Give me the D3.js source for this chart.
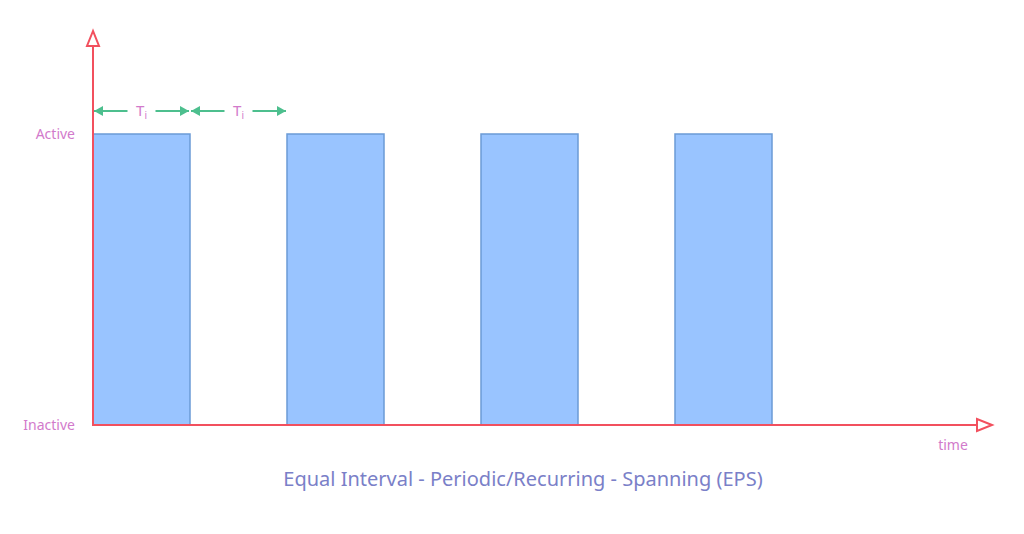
<!DOCTYPE html>
<html><head><meta charset="utf-8">
<script src="https://cdn.jsdelivr.net/npm/d3@7.9.0/dist/d3.min.js"></script>
<style>body{margin:0;background:#fff}svg{display:block;font-family:"Noto Sans",sans-serif}</style>
</head><body><svg id="chart" width="1024" height="534"></svg>
<script>
// bars: start time and duration in interval units
const barStarts = [0, 2, 4, 6];
const barWidth = 1;
const states = ['Inactive', 'Active'];
const intervals = [[0, 1], [1, 2]];
const intervalLabel = 'T';
const title = 'Equal Interval - Periodic/Recurring - Spanning (EPS)';

const svg = d3.select('#chart');
const x = d3.scaleLinear().domain([0, 1]).range([93, 190]);
const y = d3.scalePoint().domain(states).range([425, 134]);

const red = '#f2505e', pink = '#d27acb', green = '#4dbf8e';

svg.selectAll('rect.bar').data(barStarts).enter().append('rect')
  .attr('x', d => x(d)).attr('y', y('Active'))
  .attr('width', x(barWidth) - x(0)).attr('height', y('Inactive') - y('Active'))
  .attr('fill', '#99c4ff').attr('stroke', '#6b9bd6').attr('stroke-width', 1.5);

// axes
svg.append('line').attr('x1', 93).attr('x2', 93).attr('y1', 426).attr('y2', 46)
  .attr('stroke', red).attr('stroke-width', 2);
svg.append('path').attr('d', 'M93,31 L87,46 L99,46 Z').attr('fill', '#fff').attr('stroke', red).attr('stroke-width', 2);
svg.append('line').attr('x1', 92).attr('x2', 977).attr('y1', 425).attr('y2', 425)
  .attr('stroke', red).attr('stroke-width', 2);
svg.append('path').attr('d', 'M992,425 L977,419 L977,431 Z').attr('fill', '#fff').attr('stroke', red).attr('stroke-width', 2);

svg.selectAll('text.state').data(states).enter().append('text')
  .attr('x', 75).attr('y', d => y(d)).attr('dy', '0.35em').attr('text-anchor', 'end')
  .attr('fill', pink).attr('font-size', 14).text(d => d);
svg.append('text').attr('x', 953).attr('y', 450).attr('text-anchor', 'middle')
  .attr('fill', pink).attr('font-size', 14).text('time');

// interval annotations
const ay = 111;
intervals.forEach(([a, b]) => {
  const x0 = x(a) + 1, x1 = x(b) - 1, xm = (x0 + x1) / 2;
  [[x0, xm - 14], [xm + 14, x1]].forEach(([s, e], i) => {
    svg.append('line').attr('x1', s).attr('x2', e).attr('y1', ay).attr('y2', ay)
      .attr('stroke', green).attr('stroke-width', 2);
  });
  svg.append('path').attr('d', `M${x0},${ay} l9,-5 l0,10 Z`).attr('fill', green);
  svg.append('path').attr('d', `M${x1},${ay} l-9,-5 l0,10 Z`).attr('fill', green);
  const t = svg.append('text').attr('x', xm).attr('y', ay + 5).attr('text-anchor', 'middle')
    .attr('fill', pink).attr('font-size', 15).text(intervalLabel);
  t.append('tspan').attr('font-size', 10).attr('dy', 3).text('i');
});

svg.append('text').attr('x', 523).attr('y', 486).attr('text-anchor', 'middle')
  .attr('fill', '#7a80c8').attr('font-size', 20).text(title);
</script></body></html>
